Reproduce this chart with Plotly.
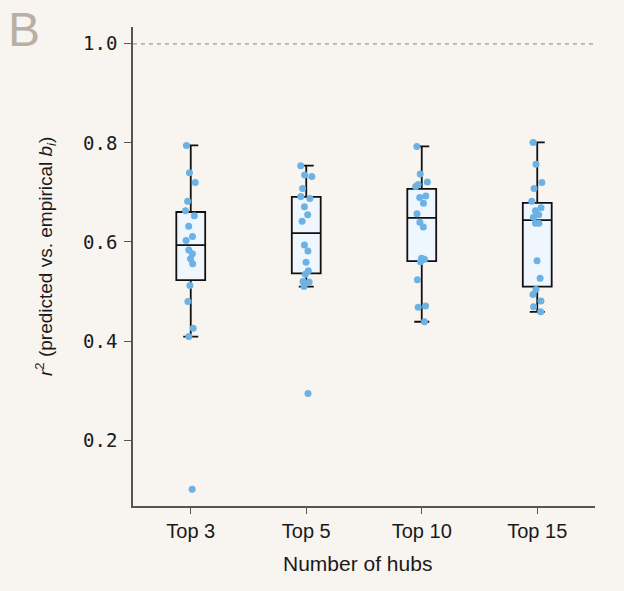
import numpy as np
import plotly.graph_objects as go

# r^2 between predicted and empirical b_i, per hub-count setting
categories = ["Top 3", "Top 5", "Top 10", "Top 15"]

r2_top3 = [0.795, 0.740, 0.720, 0.682, 0.663, 0.653, 0.632, 0.611, 0.603,
           0.584, 0.576, 0.566, 0.556, 0.512, 0.480, 0.426, 0.409, 0.101]
r2_top5 = [0.754, 0.735, 0.732, 0.708, 0.692, 0.688, 0.671, 0.655, 0.642,
           0.594, 0.582, 0.559, 0.542, 0.535, 0.520, 0.519, 0.510, 0.294]
r2_top10 = [0.793, 0.737, 0.721, 0.716, 0.712, 0.693, 0.690, 0.678, 0.657,
            0.640, 0.630, 0.567, 0.565, 0.560, 0.524, 0.471, 0.468, 0.439]
r2_top15 = [0.801, 0.757, 0.720, 0.708, 0.682, 0.669, 0.663, 0.655, 0.650,
            0.638, 0.638, 0.562, 0.527, 0.504, 0.494, 0.481, 0.469, 0.459]

series = [r2_top3, r2_top5, r2_top10, r2_top15]

y_ticks = [0.2, 0.4, 0.6, 0.8, 1.0]
reference_r2 = 1.0

BG = "#f8f4f0"
POINT = "#6cb2e4"
BOX_FILL = "#eff6fd"
INK = "#111111"
TEXT = "#1a1a1a"
AXIS = "#555555"
SANS = "Liberation Sans, Arial, sans-serif"


def box_stats(values):
    v = np.asarray(values, dtype=float)
    q1, med, q3 = np.percentile(v, [25, 50, 75])
    iqr = q3 - q1
    lo = v[v >= q1 - 1.5 * iqr].min()
    hi = v[v <= q3 + 1.5 * iqr].max()
    return q1, med, q3, lo, hi


fig = go.Figure()

# Boxes from numpy-style (linear) quartiles with 1.5 IQR whiskers
for cat, vals in zip(categories, series):
    q1, med, q3, lo, hi = box_stats(vals)
    fig.add_trace(go.Box(
        x=[cat], q1=[q1], median=[med], q3=[q3],
        lowerfence=[lo], upperfence=[hi],
        boxpoints=False, width=0.25, whiskerwidth=0.52,
        fillcolor=BOX_FILL, line=dict(color=INK, width=1.8),
        showlegend=False,
    ))

# Individual values, jittered over each box
for cat, vals in zip(categories, series):
    fig.add_trace(go.Box(
        x=[cat] * len(vals), y=vals,
        boxpoints="all", jitter=0.45, pointpos=0, width=0.25,
        fillcolor="rgba(0,0,0,0)", line=dict(color="rgba(0,0,0,0)", width=0),
        marker=dict(color=POINT, size=7, line=dict(width=0)),
        whiskerwidth=0, hoveron="points", showlegend=False,
    ))

fig.add_shape(
    type="line", xref="paper", x0=0, x1=1, yref="y",
    y0=reference_r2, y1=reference_r2,
    line=dict(color="#9a9a9a", width=1.2, dash="4px,4px"), layer="below",
)

# Panel letter
fig.add_annotation(
    text="B", xref="paper", yref="paper", x=-0.236, y=0.994,
    xanchor="center", yanchor="middle", showarrow=False,
    font=dict(family=SANS, size=48, color="#b9afa5"),
)

# Axis titles
fig.add_annotation(
    text="<i>r</i><sup>2</sup> (predicted vs. empirical <i>b<sub>i</sub></i>)",
    xref="paper", yref="paper", x=-0.188, y=0.522, textangle=-90,
    xanchor="center", yanchor="middle", showarrow=False,
    font=dict(family=SANS, size=19, color=TEXT),
)
fig.add_annotation(
    text="Number of hubs", xref="paper", yref="paper", x=0.486, y=-0.119,
    xanchor="center", yanchor="middle", showarrow=False,
    font=dict(family=SANS, size=21, color=TEXT),
)

fig.update_layout(
    width=624, height=591,
    paper_bgcolor=BG, plot_bgcolor=BG,
    margin=dict(l=133, r=29, t=27, b=85),
    boxmode="overlay",
    showlegend=False,
    xaxis=dict(
        type="category", categoryorder="array", categoryarray=categories,
        range=[-0.5, 3.5], showgrid=False, zeroline=False,
        showline=True, linecolor=AXIS, linewidth=1.5,
        ticks="outside", ticklen=6, tickcolor=AXIS, tickwidth=1.2,
        tickfont=dict(family=SANS, size=20, color=TEXT),
    ),
    yaxis=dict(
        range=[0.067, 1.034], tickvals=y_ticks, tickformat=".1f",
        showgrid=False, zeroline=False,
        showline=True, linecolor=AXIS, linewidth=1.5,
        ticks="outside", ticklen=7, tickcolor=AXIS, tickwidth=1.2,
        ticklabelstandoff=3,
        tickfont=dict(family="DejaVu Sans Mono, monospace", size=19, color=TEXT),
    ),
)

fig.write_html("out.html")
